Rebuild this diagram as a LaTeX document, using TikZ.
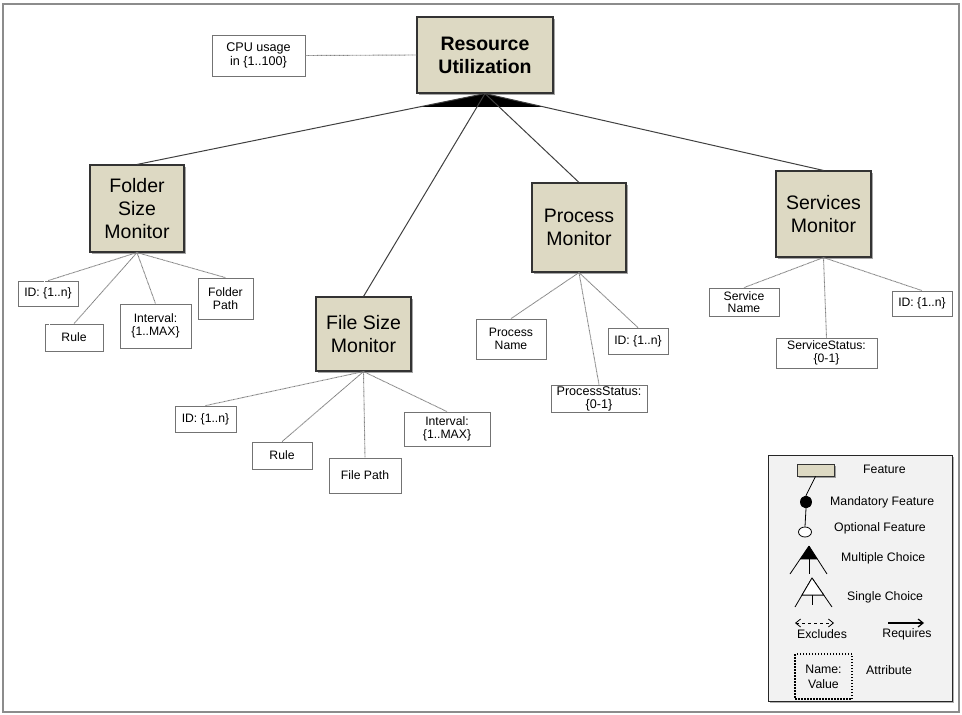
\documentclass[tikz,border=0pt]{standalone}
\usepackage{fontspec}
\setmainfont{Liberation Sans}
\usetikzlibrary{calc,shadows,arrows.meta,shapes.geometric}
\definecolor{featfill}{RGB}{221,217,195}
\definecolor{legfill}{RGB}{242,242,242}
\begin{document}
\begin{tikzpicture}[x=1pt,y=-1pt,
  feature/.style={draw=black!80, line width=1.1pt, fill=featfill, inner sep=0pt,
    align=center, font=\fontsize{19.5}{23}\selectfont,
    drop shadow={shadow xshift=1.5pt, shadow yshift=-1.8pt, opacity=0.35, fill=black}},
  attr/.style={draw=black!55, dash pattern=on 0.5pt off 0.5pt, line width=0.8pt,
    fill=white, inner sep=0pt, align=center, font=\fontsize{12.2}{13.5}\selectfont},
  fline/.style={draw=black!75, line width=1pt},
  aline/.style={draw=black!50, line width=0.9pt, dash pattern=on 0.8pt off 0.5pt},
  legtext/.style={anchor=west, inner sep=0pt, font=\fontsize{12.3}{13}\selectfont},
  legline/.style={draw=black, line width=0.8pt},
]
\useasboundingbox (0,0) rectangle (962,715);
% outer frame
\draw[black!45, line width=1.3pt] (3,4) rectangle (959,712);

% root feature and its attribute
\node[feature, font=\bfseries\fontsize{19.5}{23}\selectfont, minimum width=136pt, minimum height=76pt]
  (ru) at (485,55) {Resource\\Utilization};
\node[attr, minimum width=93pt, minimum height=41pt, font=\fontsize{12.6}{14}\selectfont] (cpu) at (258.5,55.5) {CPU usage\\in \{1..100\}};

% child features
\node[feature, minimum width=94pt, minimum height=87pt] (fsm) at (137,208.5) {Folder\\Size\\Monitor};
\node[feature, minimum width=95pt, minimum height=74pt] (fism) at (363.5,334) {File Size\\Monitor};
\node[feature, minimum width=94pt, minimum height=89pt] (pm) at (579,227.5) {Process\\Monitor};
\node[feature, minimum width=95pt, minimum height=86pt] (sm) at (823.5,214) {Services\\Monitor};

% attributes of Folder Size Monitor
\node[attr, minimum width=60pt, minimum height=25pt] (fsmid) at (48,293.5) {ID: \{1..n\}};
\node[attr, minimum width=58pt, minimum height=27pt] (fsmrule) at (74,337.5) {Rule};
\node[attr, minimum width=71pt, minimum height=44pt] (fsmint) at (155.5,326) {Interval:\\\{1..MAX\}};
\node[attr, minimum width=55pt, minimum height=41pt] (fsmpath) at (225.5,298.5) {Folder\\Path};

% attributes of File Size Monitor
\node[attr, minimum width=61pt, minimum height=26pt] (fisid) at (205.5,419) {ID: \{1..n\}};
\node[attr, minimum width=60pt, minimum height=27pt] (fisrule) at (282,455.5) {Rule};
\node[attr, minimum width=72pt, minimum height=35pt] (fispath) at (365,475.5) {File Path};
\node[attr, minimum width=86pt, minimum height=34pt] (fisint) at (447,429) {Interval:\\\{1..MAX\}};

% attributes of Process Monitor
\node[attr, minimum width=70pt, minimum height=40pt] (pmname) at (511,339) {Process\\Name};
\node[attr, minimum width=60pt, minimum height=26pt] (pmid) at (638,341) {ID: \{1..n\}};
\node[attr, minimum width=96pt, minimum height=27pt, font=\fontsize{12.6}{13}\selectfont] (pmstat) at (599,398.5) {ProcessStatus:\\\{0-1\}};

% attributes of Services Monitor
\node[attr, minimum width=70pt, minimum height=28pt, font=\fontsize{12.2}{12.5}\selectfont] (smname) at (744,302) {Service\\Name};
\node[attr, minimum width=60pt, minimum height=25pt] (smid) at (922,303.5) {ID: \{1..n\}};
\node[attr, minimum width=101pt, minimum height=30pt, font=\fontsize{12.2}{13}\selectfont] (smstat) at (826.5,353) {ServiceStatus:\\\{0-1\}};

% multiple-choice group below the root
\fill[black] (ru.south) -- ($(ru.south)!0.187!(fsm.north)$) -- ($(ru.south)!0.172!(sm.north)$) -- cycle;
\draw[fline] (ru.south) -- (fsm.north);
\draw[fline] (ru.south) -- (fism.north);
\draw[fline] (ru.south) -- (pm.north);
\draw[fline] (ru.south) -- (sm.north);

% attribute links
\draw[aline] (cpu.east) -- (ru.west);
\draw[aline] (fsm.south) -- (fsmid.north);
\draw[aline] (fsm.south) -- (fsmrule.north);
\draw[aline] (fsm.south) -- (fsmint.north);
\draw[aline] (fsm.south) -- (fsmpath.north);
\draw[aline] (fism.south) -- (fisid.north);
\draw[aline] (fism.south) -- (fisrule.north);
\draw[aline] (fism.south) -- (fispath.north);
\draw[aline] (fism.south) -- (fisint.north);
\draw[aline] (pm.south) -- (pmname.north);
\draw[aline] (pm.south) -- (pmid.north);
\draw[aline] (pm.south) -- (pmstat.north);
\draw[aline] (sm.south) -- (smname.north);
\draw[aline] (sm.south) -- (smid.north);
\draw[aline] (sm.south) -- (smstat.north);

% legend
\node[draw=black!85, line width=0.9pt, fill=legfill, minimum width=184pt, minimum height=246pt,
  drop shadow={shadow xshift=1.5pt, shadow yshift=-1.8pt, opacity=0.3, fill=black}]
  (legend) at (860,578) {};
\node[feature, line width=0.8pt, minimum width=37pt, minimum height=12pt] (lfeat) at (815.5,470) {};
\node[legtext] (tfeat) at (863,469) {Feature};
\node[ellipse, draw=black, fill=black, line width=0.8pt, minimum width=11pt, minimum height=12pt, inner sep=0pt] (lman) at (806,502) {};
\node[legtext] (tman) at (830,502) {Mandatory Feature};
\node[ellipse, draw=black, fill=white, line width=0.8pt, minimum width=13pt, minimum height=10pt, inner sep=0pt] (lopt) at (805,532) {};
\node[legtext] (topt) at (834,528) {Optional Feature};
\draw[legline] (lfeat.south) -- (lman.north);
\draw[legline] (lman.south) -- (lopt.north);

% multiple choice symbol
\coordinate (mcA) at (809,546);
\coordinate (mcL) at (790,574);
\coordinate (mcR) at (827,574);
\coordinate (mcM) at (809,574);
\draw[legline] (mcA) -- (mcL);
\draw[legline] (mcA) -- (mcR);
\draw[legline] (mcA) -- (mcM);
\fill[black] (mcA) -- ($(mcA)!0.48!(mcL)$) -- ($(mcA)!0.48!(mcR)$) -- cycle;
\node[legtext] (tmc) at (841,558) {Multiple Choice};

% single choice symbol
\coordinate (scA) at (812,578);
\coordinate (scL) at (795,607);
\coordinate (scR) at (832,607);
\coordinate (scM) at (812,605);
\draw[legline] (scA) -- (scL);
\draw[legline] (scA) -- (scR);
\draw[legline] (scA) -- (scM);
\filldraw[legline, fill=white] (scA) -- ($(scA)!0.59!(scL)$) -- ($(scA)!0.59!(scR)$) -- cycle;
\node[legtext] (tsc) at (847,597) {Single Choice};

% excludes / requires
\coordinate (exL) at (795,623);
\coordinate (exR) at (834,623);
\draw[black, line width=0.8pt, dashed, {Straight Barb[length=5pt,width=8pt]}-{Straight Barb[length=5pt,width=8pt]}] (exL) -- (exR);
\node[font=\fontsize{12.3}{13}\selectfont, inner sep=0pt] (tex) at (822,634) {Excludes};
\coordinate (rqL) at (888,623);
\coordinate (rqR) at (924,623);
\draw[black, line width=1.2pt, -{Straight Barb[length=5pt,width=8pt]}] (rqL) -- (rqR);
\node[font=\fontsize{12.3}{13}\selectfont, inner sep=0pt] (trq) at (907,634) {Requires};

% attribute symbol
\node[draw=black, line width=1.5pt, dash pattern=on 1.5pt off 1.5pt, fill=legfill, inner sep=0pt,
  align=center, font=\fontsize{12.3}{15}\selectfont, minimum width=57pt, minimum height=45pt]
  (lattr) at (823.5,676.5) {Name:\\Value};
\node[legtext] (tattr) at (866,670) {Attribute};
\end{tikzpicture}
\end{document}
